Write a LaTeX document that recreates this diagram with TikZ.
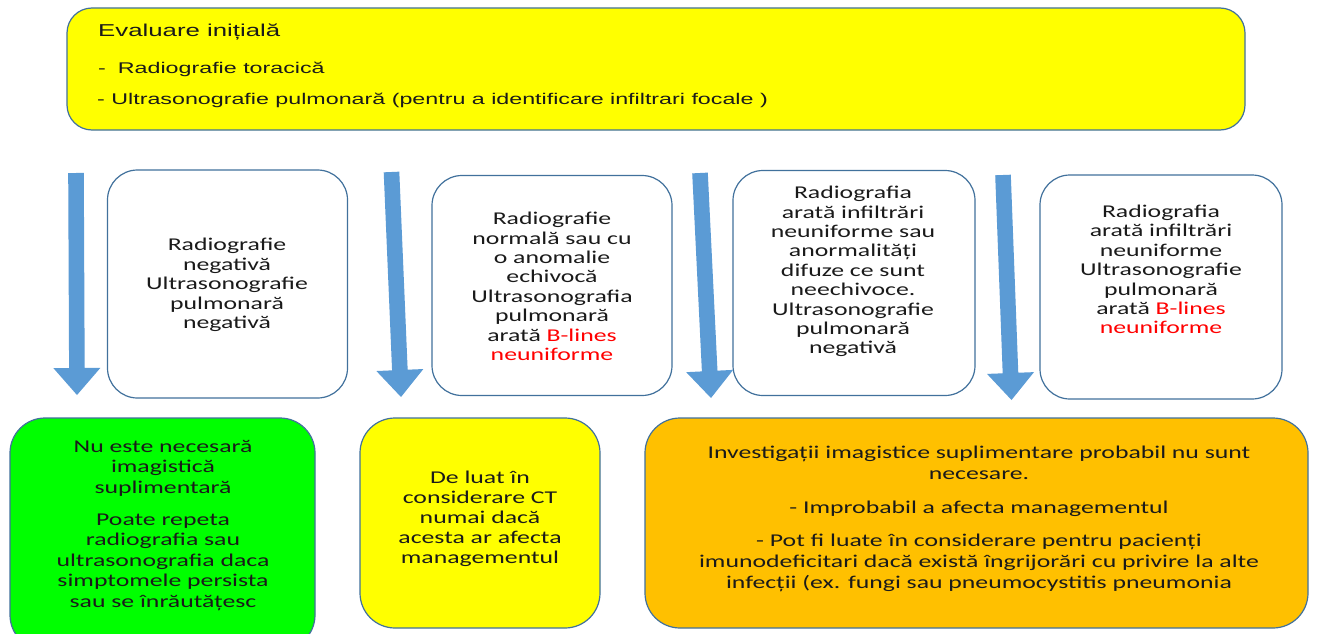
\documentclass[tikz,border=0pt]{standalone}
\usepackage{fontspec}
\usetikzlibrary{calc}
\newfontfamily\calib[FakeStretch=1.43]{Carlito}
\newfontfamily\arialx[FakeStretch=1.5]{Liberation Sans}
\definecolor{bord}{HTML}{41719C}
\definecolor{arr}{HTML}{5B9BD5}
\definecolor{ybox}{HTML}{FFFF00}
\definecolor{gbox}{HTML}{00FF00}
\definecolor{obox}{HTML}{FFC000}
\definecolor{txt}{HTML}{1A1A1A}
\definecolor{redtxt}{HTML}{FF0000}
\tikzset{
  box/.style={draw=bord, line width=1.2pt, rounded corners=#1, inner sep=0pt},
  midtxt/.style={align=center, inner sep=0pt, text=txt, font=\calib\fontsize{18}{19.4}\selectfont},
  lowtxt/.style={align=center, inner sep=0pt, text=txt, font=\calib\fontsize{18}{#1}\selectfont},
  toptxt/.style={anchor=base west, inner sep=0pt, text=txt, font=\arialx\fontsize{#1}{18}\selectfont},
}
\newcommand{\blkarrow}[3]{%
  \coordinate (#3) at ($(#2)!27pt!(#1)$);
  \fill[arr] ($(#1)!7.8pt!90:(#2)$) -- ($(#3)!7.8pt!90:(#2)$) -- ($(#3)!23.5pt!90:(#2)$)
    -- (#2) -- ($(#3)!23.5pt!-90:(#2)$) -- ($(#3)!7.8pt!-90:(#2)$) -- ($(#1)!7.8pt!-90:(#2)$) -- cycle;}
\newcommand{\red}[1]{\textcolor{redtxt}{#1}}
\begin{document}
\begin{tikzpicture}[x=1pt,y=-1pt]
\clip (0,0) rectangle (1320,634);
\fill[white] (0,0) rectangle (1320,634);

% top box
\node[box=25pt, fill=ybox, minimum width=1178pt, minimum height=122pt] (top) at (656,69) {};
\node[toptxt=17.2] (t0) at (98,37) {Evaluare inițială};
\node[toptxt=15.5] (t1) at (98,74) {-\hspace{12pt}Radiografie toracică};
\node[toptxt=15.5] (t2) at (97,104) {- Ultrasonografie pulmonară (pentru a identificare infiltrari focale )};

% middle boxes
\node[box=30pt, fill=white, minimum width=240pt, minimum height=228pt] (m1) at (227.5,284) {};
\node[box=30pt, fill=white, minimum width=240pt, minimum height=220pt] (m2) at (552,285.5) {};
\node[box=30pt, fill=white, minimum width=242pt, minimum height=225pt] (m3) at (854,283) {};
\node[box=30pt, fill=white, minimum width=242pt, minimum height=224pt] (m4) at (1161,287) {};

\node[midtxt] (m1t) at (227,285) {Radiografie\\negativă\\Ultrasonografie\\pulmonară\\negativă};
\node[midtxt] (m2t) at (552,286.5) {Radiografie\\normală sau cu\\o anomalie\\echivocă\\Ultrasonografia\\pulmonară\\arată \red{B-lines}\\\red{neuniforme}};
\node[midtxt] (m3t) at (853,271.5) {Radiografia\\arată infiltrări\\neuniforme sau\\anormalități\\difuze ce sunt\\neechivoce.\\Ultrasonografie\\pulmonară\\negativă};
\node[midtxt] (m4t) at (1161,269.5) {Radiografia\\arată infiltrări\\neuniforme\\Ultrasonografie\\pulmonară\\arată \red{B-lines}\\\red{neuniforme}};

% arrows
\coordinate (a1s) at (76,173);   \coordinate (a1e) at (77,395);
\coordinate (a2s) at (391.5,172); \coordinate (a2e) at (401,397);
\coordinate (a3s) at (700,173);  \coordinate (a3e) at (711,398);
\coordinate (a4s) at (1003,175); \coordinate (a4e) at (1011.5,400);
\blkarrow{a1s}{a1e}{a1n}
\blkarrow{a2s}{a2e}{a2n}
\blkarrow{a3s}{a3e}{a3n}
\blkarrow{a4s}{a4e}{a4n}

% bottom boxes
\node[box=35pt, fill=gbox, minimum width=305pt, minimum height=232pt] (b1) at (162.5,534) {};
\node[box=35pt, fill=ybox, minimum width=240pt, minimum height=210pt] (b2) at (480,523) {};
\node[box=35pt, fill=obox, minimum width=663pt, minimum height=210pt] (b3) at (976.5,523) {};

\node[lowtxt=20.6] (b1t) at (163,525.5) {Nu este necesară\\imagistică\\suplimentară\\[11pt]Poate repeta\\radiografia sau\\ultrasonografia daca\\simptomele persista\\sau se înrăutățesc};
\node[lowtxt=20] (b2t) at (480,519) {De luat în\\considerare CT\\numai dacă\\acesta ar afecta\\managementul};
\node[lowtxt=21] (b3t) at (979,518.5) {Investigații imagistice suplimentare probabil nu sunt\\necesare.\\[13pt]- Improbabil a afecta managementul\\[12pt]- Pot fi luate în considerare pentru pacienți\\imunodeficitari dacă există îngrijorări cu privire la alte\\infecții (ex. fungi sau pneumocystitis pneumonia};
\end{tikzpicture}
\end{document}
